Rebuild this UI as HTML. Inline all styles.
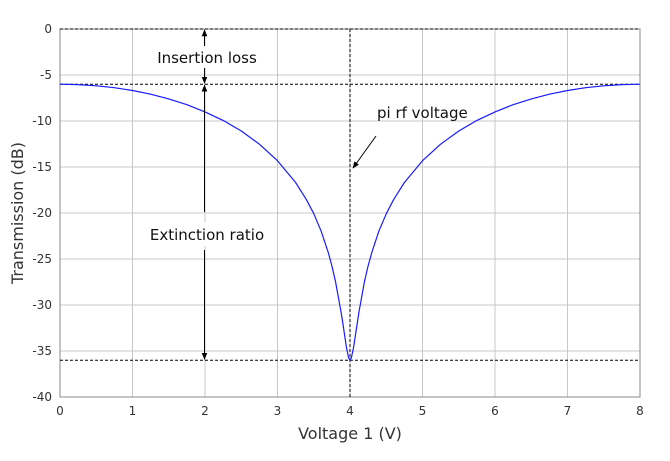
<!DOCTYPE html>
<html><head><meta charset="utf-8"><style>
body{margin:0;background:#fff;width:670px;height:456px;overflow:hidden}
text{font-family:"DejaVu Sans","Liberation Sans",sans-serif}
</style></head><body>
<svg id="chart" width="670" height="456" xmlns="http://www.w3.org/2000/svg"></svg>
<script>
const xTicks=[0,1,2,3,4,5,6,7,8];
const yTicks=[0,-5,-10,-15,-20,-25,-30,-35,-40];
const voltages=[0,0.25,0.5,0.75,1,1.25,1.5,1.75,2,2.25,2.5,2.75,3,3.25,3.4,3.5,3.6,3.7,3.75,3.8,3.875,3.9,3.95,3.98,4,4.02,4.05,4.1,4.125,4.2,4.25,4.3,4.4,4.5,4.6,4.75,5,5.25,5.5,5.75,6,6.25,6.5,6.75,7,7.25,7.5,7.75,8];
const transmission=[-6,-6.04,-6.17,-6.38,-6.69,-7.09,-7.6,-8.23,-9.01,-9.94,-11.09,-12.52,-14.31,-16.69,-18.56,-20.08,-21.94,-24.3,-25.75,-27.45,-30.67,-31.95,-34.59,-35.74,-36,-35.74,-34.59,-31.95,-30.67,-27.45,-25.75,-24.3,-21.94,-20.08,-18.56,-16.69,-14.31,-12.52,-11.09,-9.94,-9.01,-8.23,-7.6,-7.09,-6.69,-6.38,-6.17,-6.04,-6];
const refLevels=[0,-6,-36];
const piVoltage=4;
const X0=60,X1=640,Y0=29,Y1=397;
const xs=v=>X0+(v-0)/(8-0)*(X1-X0);
const ys=d=>Y0+(0-d)/(40)*(Y1-Y0);
const svg=document.getElementById('chart');
const NS='http://www.w3.org/2000/svg';
function mk(tag,attrs,name,parent){const e=document.createElementNS(NS,tag);for(const k in attrs)e.setAttribute(k,attrs[k]);


(parent||svg).appendChild(e);return e;}
const defs=mk('defs',{},'defs');
const m=mk('marker',{id:'ah',viewBox:'0 0 10 10',refX:'9',refY:'5',markerWidth:'7',markerHeight:'7',orient:'auto-start-reverse'},'arrowhead',defs);
mk('path',{d:'M0,1 L10,5 L0,9 z',fill:'#000'},'arrowhead-shape',m);
xTicks.forEach(t=>{mk('line',{x1:xs(t),x2:xs(t),y1:Y0,y2:Y1,stroke:'#c8c8c8','stroke-width':1},'x-grid-line');
const tx=mk('text',{x:xs(t),y:Y1+18,'text-anchor':'middle','font-size':12,fill:'#333'},'x-tick-label');tx.textContent=t;});
yTicks.forEach(t=>{mk('line',{x1:X0,x2:X1,y1:ys(t),y2:ys(t),stroke:'#c8c8c8','stroke-width':1},'y-grid-line');
const tx=mk('text',{x:X0-8,y:ys(t)+4,'text-anchor':'end','font-size':12,fill:'#333'},'y-tick-label');tx.textContent=t;});
mk('rect',{x:X0,y:Y0,width:X1-X0,height:Y1-Y0,fill:'none',stroke:'#888'},'plot-frame');
refLevels.forEach(l=>mk('line',{x1:X0,x2:X1,y1:ys(l),y2:ys(l),stroke:'#000','stroke-dasharray':'3,2','stroke-width':1},'reference-level-line'));
mk('line',{x1:xs(piVoltage),x2:xs(piVoltage),y1:Y0,y2:Y1,stroke:'#000','stroke-dasharray':'3,2'},'pi-voltage-line');
mk('path',{d:voltages.map((v,i)=>(i?'L':'M')+xs(v).toFixed(1)+','+ys(transmission[i]).toFixed(1)).join(''),fill:'none',stroke:'#1a1aff','stroke-width':1.2,'stroke-linejoin':'round'},'transmission-curve');
const ax=xs(2)-0.5;
mk('line',{x1:ax,x2:ax,y1:ys(0)+1,y2:ys(-6)-1,stroke:'#000','marker-start':'url(#ah)','marker-end':'url(#ah)'},'insertion-loss-arrow');
mk('line',{x1:ax,x2:ax,y1:ys(-6)+1,y2:212,stroke:'#000','marker-start':'url(#ah)'},'extinction-arrow-top');
mk('line',{x1:ax,x2:ax,y1:250,y2:ys(-36)-1,stroke:'#000','marker-end':'url(#ah)'},'extinction-arrow-bottom');
mk('rect',{x:148,y:46,width:118,height:22,fill:'#fff'},'label-bg');
let t=mk('text',{x:207,y:63,'text-anchor':'middle','font-size':15,fill:'#111'},'insertion-loss-label');t.textContent='Insertion loss';
mk('rect',{x:140,y:222,width:134,height:24,fill:'#fff'},'label-bg');
t=mk('text',{x:207,y:240,'text-anchor':'middle','font-size':15,fill:'#111'},'extinction-ratio-label');t.textContent='Extinction ratio';
t=mk('text',{x:377,y:118,'font-size':15,fill:'#111'},'pi-rf-voltage-label');t.textContent='pi rf voltage';
mk('line',{x1:376,x2:353,y1:136,y2:168,stroke:'#000','marker-end':'url(#ah)'},'pi-rf-voltage-arrow');
t=mk('text',{x:350,y:439,'text-anchor':'middle','font-size':16,fill:'#333'},'x-axis-title');t.textContent='Voltage 1 (V)';
t=mk('text',{x:23,y:213,'text-anchor':'middle','font-size':16,fill:'#333',transform:'rotate(-90 23 213)'},'y-axis-title');t.textContent='Transmission (dB)';
</script>
</body></html>
